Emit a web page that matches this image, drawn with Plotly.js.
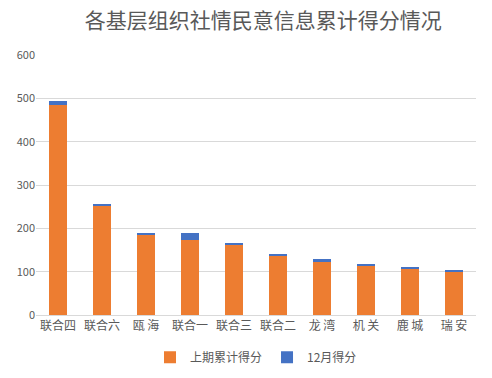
<!DOCTYPE html>
<html><head><meta charset="utf-8">
<script src="https://cdn.plot.ly/plotly-3.0.1.min.js"></script>
<style>html,body{margin:0;padding:0;background:#fff}#c{width:492px;height:378px}</style>
</head><body><div id="c"></div>
<script>
const categories = ["联合四","联合六","瓯 海","联合一","联合三","联合二","龙 湾","机 关","鹿 城","瑞 安"];
const prevScores = [485, 252, 185, 173, 161, 137, 123, 113, 106, 100];
const decScores = [9, 4, 4, 16, 5, 4, 7, 5, 5, 4];
const yTicks = [0, 100, 200, 300, 400, 500, 600];
const font = "'Noto Sans CJK SC', 'Microsoft YaHei', sans-serif";
const data = [
  {type:'bar', name:'上期累计得分', x:categories, y:prevScores, marker:{color:'#ED7D31'}, hoverinfo:'none'},
  {type:'bar', name:'12月得分', x:categories, y:decScores, marker:{color:'#4472C4'}, hoverinfo:'none'}
];
const layout = {
  width:492, height:378, barmode:'stack', bargap:0.61,
  paper_bgcolor:'#fff', plot_bgcolor:'#fff',
  margin:{l:36, r:16, t:55, b:63, autoexpand:false},
  font:{family:font, color:'#595959', size:12},
  title:{text:'各基层组织社情民意信息累计得分情况', font:{family:font, size:21, color:'#595959'}, x:0.535, xanchor:'center', y:0.945, yanchor:'middle'},
  xaxis:{tickfont:{family:font, size:12, color:'#595959'}, showline:true, linecolor:'#d9d9d9', ticks:'', fixedrange:true},
  yaxis:{range:[0,600], tickvals:yTicks, gridcolor:'#d9d9d9', zeroline:false, showline:false, ticks:'', tickfont:{family:font, size:11, color:'#595959'}, fixedrange:true},
  legend:{orientation:'h', x:0.5, xanchor:'center', yref:'container', y:0.055, yanchor:'middle', itemwidth:30, font:{family:font, size:12, color:'#595959'}, traceorder:'normal'},
  showlegend:true
};
Plotly.newPlot('c', data, layout, {displayModeBar:false, staticPlot:true});
</script></body></html>
